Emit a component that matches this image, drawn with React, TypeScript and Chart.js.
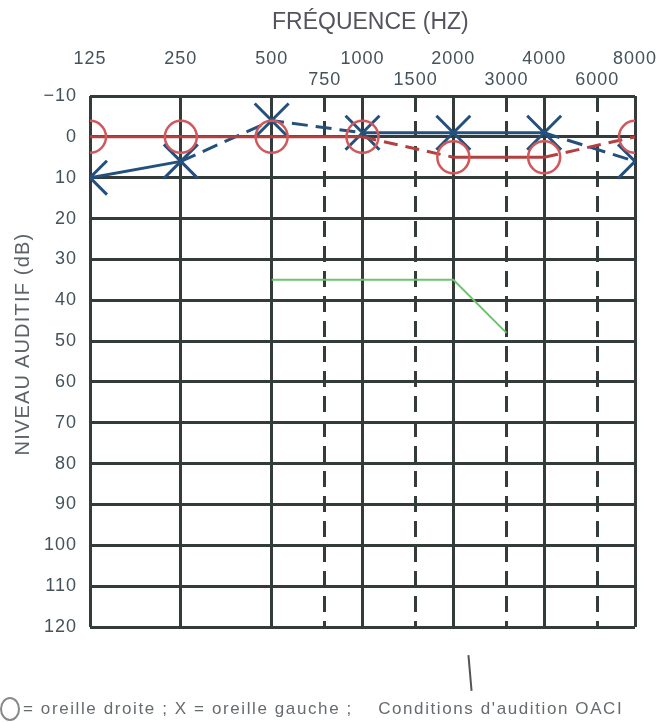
import React, { useEffect, useRef } from "react";
import { Chart, registerables } from "chart.js";

Chart.register(...registerables);

// ---- data ----
const FREQS = [125, 250, 500, 1000, 2000, 4000, 8000];
const MID_FREQS = [750, 1500, 3000, 6000];
const LEVEL_TICKS = [-10, 0, 10, 20, 30, 40, 50, 60, 70, 80, 90, 100, 110, 120];
const RIGHT_EAR = [0, 0, 0, 0, 5, 5, 0];
const LEFT_EAR = [10, 6, -4, -1, -1, -1, 6];
const OACI_FREQS = [500, 2000, 3000];
const OACI_LEVELS = [35, 35, 48];
const RIGHT_DASHED_SEGMENTS = [3, 5];
const LEFT_DASHED_SEGMENTS = [1, 2, 5];

const FONT = '"Liberation Sans", Arial, sans-serif';
const TEXT = "#44525a";
const GRID = "#343b3b";

export default function App() {
  const ref = useRef<HTMLCanvasElement | null>(null);

  useEffect(() => {
    if (!ref.current) return;
    const spacing = {
      id: "spacing",
      beforeDraw(chart: any) {
        chart.ctx.letterSpacing = "1px";
      },
      afterDraw(chart: any) {
        chart.ctx.letterSpacing = "0px";
      },
    };
    const chart = new Chart(ref.current, {
      type: "line",
      data: {
        datasets: [
          {
            label: "OACI",
            data: OACI_FREQS.map((f, i) => ({ x: f, y: OACI_LEVELS[i] })),
            borderColor: "#6cc46c",
            borderWidth: 2,
            pointRadius: 0,
            xAxisID: "x",
            yAxisID: "y",
          },
          {
            label: "oreille droite",
            data: FREQS.map((f, i) => ({ x: f, y: RIGHT_EAR[i] })),
            borderColor: "#b3403f",
            borderWidth: 3,
            pointStyle: "circle",
            pointRadius: 16,
            pointBorderColor: "#d0585b",
            pointBackgroundColor: "rgba(0,0,0,0)",
            pointBorderWidth: 2.5,
            segment: {
              borderDash: (ctx: any) =>
                RIGHT_DASHED_SEGMENTS.includes(ctx.p0DataIndex) ? [14, 8] : undefined,
            },
            xAxisID: "x",
            yAxisID: "y",
          },
          {
            label: "oreille gauche",
            data: FREQS.map((f, i) => ({ x: f, y: LEFT_EAR[i] })),
            borderColor: "#24507e",
            borderWidth: 3,
            pointStyle: "crossRot",
            pointRadius: 24,
            pointBorderColor: "#24507e",
            pointBorderWidth: 3,
            segment: {
              borderDash: (ctx: any) =>
                LEFT_DASHED_SEGMENTS.includes(ctx.p0DataIndex) ? [16, 8] : undefined,
            },
            xAxisID: "x",
            yAxisID: "y",
          },
        ],
      },
      options: {
        animation: false,
        responsive: false,
        layout: { padding: { left: 0, right: 22, top: 0, bottom: 95 } },
        plugins: { legend: { display: false }, tooltip: { enabled: false } },
        scales: {
          x: {
            type: "logarithmic",
            position: "top",
            min: 125,
            max: 8000,
            weight: 1,
            afterBuildTicks: (s: any) => {
              s.ticks = FREQS.map((v) => ({ value: v }));
            },
            afterFit: (s: any) => {
              s.height = 70;
            },
            ticks: {
              callback: (v: any) => String(v),
              color: TEXT,
              font: { size: 18, family: FONT },
              padding: 0,
              maxRotation: 0,
              autoSkip: false,
            },
            grid: { color: GRID, lineWidth: 3, drawTicks: false },
            border: { display: false },
          },
          x2: {
            type: "logarithmic",
            position: "top",
            min: 125,
            max: 8000,
            weight: 0,
            afterBuildTicks: (s: any) => {
              s.ticks = MID_FREQS.map((v) => ({ value: v }));
            },
            afterFit: (s: any) => {
              s.height = 26;
            },
            ticks: {
              callback: (v: any) => String(v),
              color: TEXT,
              font: { size: 18, family: FONT },
              padding: 5,
              maxRotation: 0,
              autoSkip: false,
            },
            grid: { color: GRID, lineWidth: 3, drawTicks: false },
            border: { display: false, dash: [16, 9] },
          },
          y: {
            type: "linear",
            reverse: true,
            min: -10,
            max: 120,
            afterBuildTicks: (s: any) => {
              s.ticks = LEVEL_TICKS.map((v) => ({ value: v }));
            },
            afterFit: (s: any) => {
              s.width = 90;
            },
            ticks: {
              callback: (v: any) => (v < 0 ? "\u2212" + Math.abs(v) : String(v)),
              color: TEXT,
              font: { size: 18, family: FONT },
              padding: 13,
              autoSkip: false,
            },
            grid: { color: GRID, lineWidth: 3, drawTicks: false },
            border: { display: false },
          },
        },
      },
      plugins: [spacing],
    } as any);
    return () => chart.destroy();
  }, []);

  return (
    <div
      style={{
        position: "fixed",
        left: 0,
        top: 0,
        width: 662,
        height: 722,
        background: "#fff",
        fontFamily: FONT,
        overflow: "hidden",
      }}
    >
      <canvas ref={ref} width={662} height={722} style={{ position: "absolute", left: 0, top: 0 }} />
      <div
        style={{
          position: "absolute",
          left: 272,
          top: 8,
          fontSize: 23,
          color: "#565260",
          whiteSpace: "nowrap",
        }}
      >
        FRÉQUENCE (HZ)
      </div>
      <div
        style={{
          position: "absolute",
          left: 22 - 130,
          top: 344 - 12,
          width: 260,
          height: 24,
          lineHeight: "24px",
          textAlign: "center",
          transform: "rotate(-90deg)",
          fontSize: 20,
          letterSpacing: "1.2px",
          color: "#5b6366",
          whiteSpace: "nowrap",
        }}
      >
        NIVEAU AUDITIF (dB)
      </div>
      <div
        style={{
          position: "absolute",
          left: 469,
          top: 655,
          width: 2,
          height: 36,
          background: "#555",
          transform: "rotate(-5deg)",
        }}
      />
      <div
        style={{
          position: "absolute",
          left: 0,
          top: 697,
          fontSize: 17,
          letterSpacing: "1.6px",
          color: "#666b6e",
          whiteSpace: "pre",
          display: "flex",
          alignItems: "center",
        }}
      >
        <span
          style={{
            display: "inline-block",
            width: 16,
            height: 20,
            border: "2px solid #888",
            borderRadius: "50%",
            marginRight: 3,
          }}
        />
        <span>{"= oreille droite ; X = oreille gauche ;    Conditions d'audition OACI"}</span>
      </div>
    </div>
  );
}
